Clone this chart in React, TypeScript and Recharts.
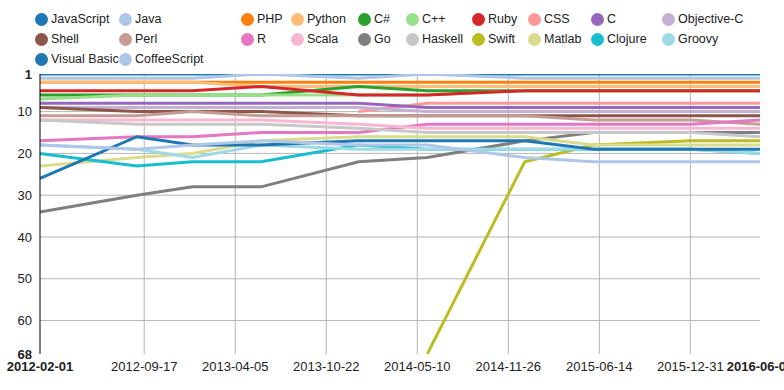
import React from 'react';
import { LineChart, Line, XAxis, YAxis, ReferenceLine } from 'recharts';

// RedMonk-style language ranking snapshots
const dates = [
  '2012-02-01', '2012-09-01', '2013-01-01', '2013-06-01', '2014-01-01',
  '2014-06-01', '2015-01-01', '2015-06-01', '2016-01-01', '2016-06-01',
];

const languages = [
  'JavaScript', 'Java', 'PHP', 'Python', 'C#', 'C++', 'Ruby', 'CSS', 'C', 'Objective-C',
  'Shell', 'Perl', 'R', 'Scala', 'Go', 'Haskell', 'Swift', 'Matlab', 'Clojure', 'Groovy',
  'Visual Basic', 'CoffeeScript',
];

const colors = [
  '#1f77b4', '#aec7e8', '#ff7f0e', '#ffbb78', '#2ca02c', '#98df8a', '#d62728', '#ff9896',
  '#9467bd', '#c5b0d5', '#8c564b', '#c49c94', '#e377c2', '#f7b6d2', '#7f7f7f', '#c7c7c7',
  '#bcbd22', '#dbdb8d', '#17becf', '#9edae5', '#1f77b4', '#aec7e8',
];

const javascript = [1, 1, 1, 1, 1, 1, 1, 1, 1, 1];
const java = [2, 2, 2, 1, 2, 1, 2, 2, 2, 2];
const php = [3, 3, 3, 3, 3, 3, 3, 3, 3, 3];
const python = [3, 3, 3, 4, 4, 4, 4, 4, 4, 4];
const csharp = [6, 6, 6, 6, 4, 5, 5, 5, 5, 5];
const cpp = [7, 6, 6, 6, 6, 6, 5, 5, 5, 5];
const ruby = [5, 5, 5, 4, 6, 6, 5, 5, 5, 5];
const css = [null, null, null, null, 10, 8, 8, 8, 8, 8];
const c = [8, 8, 8, 8, 8, 9, 9, 9, 9, 9];
const objc = [9, 9, 9, 9, 9, 10, 10, 10, 10, 10];
const shell = [9, 10, 10, 10, 11, 11, 11, 11, 11, 11];
const perl = [11, 11, 10, 11, 11, 11, 11, 12, 12, 13];
const r = [17, 16, 16, 15, 15, 13, 13, 13, 13, 12];
const scala = [12, 12, 12, 12, 13, 14, 14, 14, 14, 14];
const go = [34, 30, 28, 28, 22, 21, 17, 15, 15, 15];
const haskell = [12, 13, 13, 13, 14, 15, 15, 15, 15, 16];
const swift = [null, null, null, null, null, 68, 22, 18, 17, 17];
const matlab = [23, 21, 20, 17, 16, 16, 16, 18, 18, 18];
const clojure = [20, 23, 22, 22, 18, 19, 19, 19, 19, 20];
const groovy = [18, 19, 21, 18, 19, 19, 19, 19, 19, 20];
const visualBasic = [26, 16, 18, 18, 17, 17, 17, 19, 19, 19];
const coffeescript = [18, 19, 18, 17, 18, 18, 21, 22, 22, 22];

const series = [
  javascript, java, php, python, csharp, cpp, ruby, css, c, objc, shell, perl, r, scala,
  go, haskell, swift, matlab, clojure, groovy, visualBasic, coffeescript,
];

const xTicks = [
  '2012-02-01', '2012-09-17', '2013-04-05', '2013-10-22', '2014-05-10',
  '2014-11-26', '2015-06-14', '2015-12-31', '2016-06-01',
];
const yTicks = [1, 10, 20, 30, 40, 50, 60, 68];

const toTime = (s: string) => {
  const [y, m, d] = s.split('-').map(Number);
  return Date.UTC(y, m - 1, d);
};
const fmt = (t: number) => {
  const d = new Date(t);
  const p = (n: number) => String(n).padStart(2, '0');
  return `${d.getUTCFullYear()}-${p(d.getUTCMonth() + 1)}-${p(d.getUTCDate())}`;
};

const data = dates.map((d, i) => {
  const row: any = { t: toTime(d) };
  languages.forEach((lang, j) => {
    row[lang] = series[j][i];
  });
  return row;
});

const xTickTimes = xTicks.map(toTime);
const xStart = xTickTimes[0];
const xEnd = xTickTimes[xTickTimes.length - 1];

const FONT = '"Liberation Sans", Arial, sans-serif';

const XTick = ({ x, y, payload }: any) => {
  const edge = payload.value === xStart || payload.value === xEnd;
  return (
    <text x={x} y={y} dy="0.71em" textAnchor="middle" fontSize={13} fontFamily={FONT}
      fill="#222" fontWeight={edge ? 'bold' : 'normal'}>
      {fmt(payload.value)}
    </text>
  );
};

const YTick = ({ x, y, payload }: any) => {
  const edge = payload.value === 1 || payload.value === 68;
  return (
    <text x={x} y={y} dy="0.355em" textAnchor="end" fontSize={13} fontFamily={FONT}
      fill="#222" fontWeight={edge ? 'bold' : 'normal'}>
      {payload.value}
    </text>
  );
};

// legend laid out as a 10-column grid
const legendCols = [35, 119, 241, 291, 358, 406, 472, 528, 591, 662];

const Legend = () => (
  <div style={{ position: 'absolute', left: 0, top: 0, width: 784, height: 70 }}>
    {languages.map((lang, i) => {
      const col = i % 10;
      const row = Math.floor(i / 10);
      return (
        <div key={lang} style={{
          position: 'absolute', left: legendCols[col], top: 11 + row * 20,
          display: 'flex', alignItems: 'center', height: 16,
          fontFamily: FONT, fontSize: 12.5, color: '#222', whiteSpace: 'nowrap',
        }}>
          <span style={{
            display: 'inline-block', width: 13, height: 13, borderRadius: '50%',
            background: colors[i], marginRight: 3,
          }} />
          {lang}
        </div>
      );
    })}
  </div>
);

export default function App() {
  return (
    <div style={{ position: 'relative', width: 784, height: 390, background: '#fff' }}>
      <style>{'body{margin:0}'}</style>
      <Legend />
      <LineChart width={784} height={390} data={data}
        margin={{ top: 74, right: 24, bottom: 0, left: 0 }}>
        {yTicks.filter((v) => v !== 1 && v !== 68).map((v) => (
          <ReferenceLine key={`y${v}`} y={v} stroke="#b4b4b4" strokeWidth={1} />
        ))}
        {xTickTimes.slice(1, -1).map((t) => (
          <ReferenceLine key={`x${t}`} x={t} stroke="#b4b4b4" strokeWidth={1} />
        ))}
        <XAxis dataKey="t" type="number" scale="time" domain={[xStart, xEnd]}
          ticks={xTickTimes} tick={<XTick />} axisLine={false} tickLine={false}
          interval={0} height={36} />
        <YAxis type="number" domain={[1, 68]} reversed ticks={yTicks} width={40}
          tick={<YTick />} tickLine={false} axisLine={{ stroke: '#000', strokeWidth: 1 }}
          interval={0} allowDataOverflow />
        {languages.map((lang, i) => (
          <Line key={lang} dataKey={lang} type="linear" stroke={colors[i]} strokeWidth={3}
            dot={false} activeDot={false} isAnimationActive={false} connectNulls={false} />
        ))}
      </LineChart>
    </div>
  );
}
